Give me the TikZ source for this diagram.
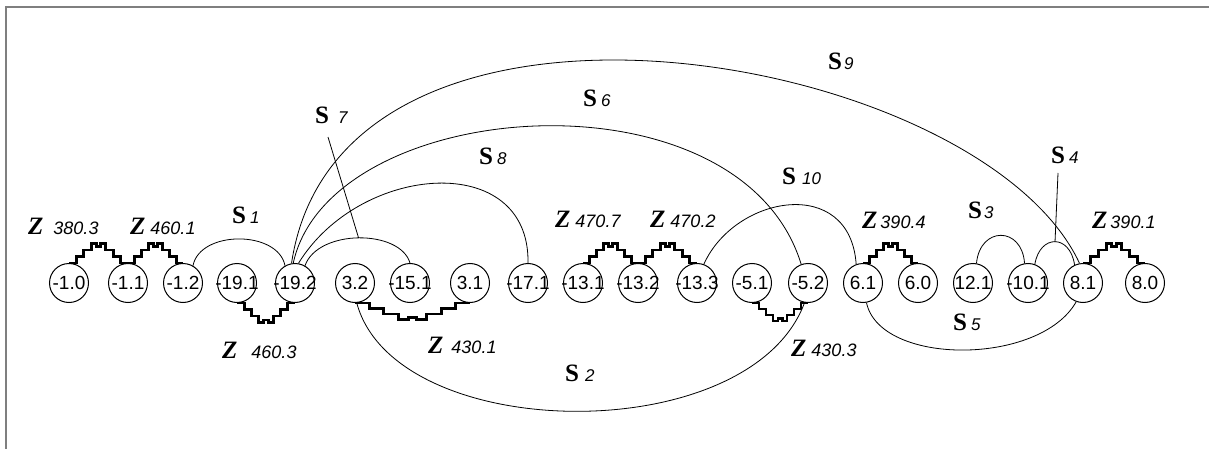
\documentclass[tikz,border=0pt]{standalone}
\usepackage{fontspec}
\setmainfont{Liberation Sans}
\newfontfamily\sserif{Liberation Serif}
\usetikzlibrary{calc}
\definecolor{edgegray}{HTML}{7F7F7F}

\newcommand\nlab[1]{\makebox[0pt]{#1}}
\newcommand\slab[2][4pt]{{\sserif\bfseries\fontsize{25}{25}\selectfont S}\hspace{#1}{\itshape\fontsize{17}{17}\selectfont #2}}
\newcommand\zlab[2][5pt]{{\sserif\bfseries\itshape\fontsize{25}{25}\selectfont Z}\hspace{#1}{\itshape\fontsize{18}{18}\selectfont #2}}
% stepped link between two anchors, #3 = step height (negative = up)
\newcommand\zlink[3]{\draw[zig] let \p1=(#1), \p2=(#2), \n1={(\x2-\x1)/8} in
  (\p1) -- ++(\n1,0) -- ++(0,#3) -- ++(\n1,0) -- ++(0,#3) -- ++(\n1,0) -- ++(0,#3)
  -- ++({0.7*\n1},0) -- ++(0,{-0.4*(#3)}) -- ++({0.6*\n1},0) -- ++(0,{0.4*(#3)})
  -- ++({0.7*\n1},0) -- ++(0,{-(#3)}) -- ++(\n1,0) -- ++(0,{-(#3)}) -- ++(\n1,0) -- ++(0,{-(#3)}) -- (\p2);}

\begin{document}
\begin{tikzpicture}[x=1pt,y=-1pt,
  vtx/.style={circle,draw,line width=1pt,minimum size=39pt,inner sep=0pt,font=\fontsize{19}{19}\selectfont},
  sline/.style={line width=0.8pt},
  zig/.style={line width=2.8pt},
  lab/.style={inner sep=0pt,anchor=west}]
\useasboundingbox (0,0) rectangle (1209,449);
\draw[edgegray,line width=2pt] (6,449) -- (6,7) -- (1209,7);

% nodes
\foreach \i/\x/\t in {1/69/-1.0, 2/128/-1.1, 3/183/-1.2, 4/237/-19.1, 5/295/-19.2,
  6/355/3.2, 7/410/-15.1, 8/470/3.1, 9/528/-17.1, 10/583/-13.1, 11/638/-13.2,
  12/697/-13.3, 13/752/-5.1, 14/808/-5.2, 15/863/6.1, 16/918/6.0, 17/973/12.1,
  18/1028/-10.1, 19/1083/8.1, 20/1145/8.0}
  \node[vtx] (v\i) at (\x,283) {\nlab{\t}};

% Z links
\zlink{v1.north}{v2.north}{-6.5}
\zlink{v2.north}{v3.north}{-6.5}
\zlink{v4.south}{v5.south}{6.5}
\zlink{v6.south}{v8.south}{5.5}
\zlink{v10.north}{v11.north}{-6.5}
\zlink{v11.north}{v12.north}{-6.5}
\zlink{v13.south}{v14.south}{6}
\zlink{v15.north}{v16.north}{-6.5}
\zlink{v19.north}{v20.north}{-6.5}

% S arcs
\draw[sline] (v3.60) .. controls (200,230) and (278,230) .. (v5.120);
\draw[sline] (v6.275) .. controls (395,445) and (750,450) .. (v14.260);
\draw[sline] (v17.80) .. controls (980,226) and (1022,226) .. (v18.100);
\draw[sline] (v18.70) .. controls (1040,234) and (1070,234) .. (v19.115);
\draw[sline] (v15.280) .. controls (880,366) and (1040,366) .. (v19.250);
\draw[sline] (v5.95) .. controls (330,95) and (740,65) .. (v14.110);
\draw[sline] (v5.60) .. controls (318,229) and (400,229) .. (v7.north);
\draw[sline] (v5.80) .. controls (360,163) and (530,150) .. (v9.north);
\draw[sline] (v5.100) .. controls (340,-60) and (980,50) .. (v19.100);
\draw[sline] (v12.70) .. controls (735,195) and (850,175) .. (v15.110);
\coordinate (s7m) at (358.6,238);
\coordinate (s7t) at (328,137);
\draw[sline] (s7m) -- (s7t);
\coordinate (s4m) at (1055,242);
\coordinate (s4t) at (1058,173);
\draw[sline] (s4m) -- (s4t);

% labels
\node[lab] (s1) at (232,215) {\slab{1}};
\node[lab] (s2) at (565,373) {\slab[6pt]{2}};
\node[lab] (s3) at (968,210) {\slab[2pt]{3}};
\node[lab] (s4) at (1051,155) {\slab{4}};
\node[lab] (s5) at (953,322) {\slab{5}};
\node[lab] (s6) at (583,98) {\slab{6}};
\node[lab] (s7) at (315,115) {\slab[9pt]{7}};
\node[lab] (s8) at (479,156) {\slab[4pt]{8}};
\node[lab] (s9) at (828,61) {\slab[2pt]{9}};
\node[lab] (s10) at (782,176) {\slab[6pt]{10}};
\node[lab] (z1) at (28,226) {\zlab[10pt]{380.3}};
\node[lab] (z2) at (130,226) {\zlab{460.1}};
\node[lab] (z3) at (222,350) {\zlab[14pt]{460.3}};
\node[lab] (z4) at (428,345) {\zlab[8pt]{430.1}};
\node[lab] (z5) at (555,219) {\zlab{470.7}};
\node[lab] (z6) at (650,219) {\zlab{470.2}};
\node[lab] (z7) at (791,348) {\zlab{430.3}};
\node[lab] (z8) at (862,220) {\zlab[3pt]{390.4}};
\node[lab] (z9) at (1092,220) {\zlab[3pt]{390.1}};
\end{tikzpicture}
\end{document}
